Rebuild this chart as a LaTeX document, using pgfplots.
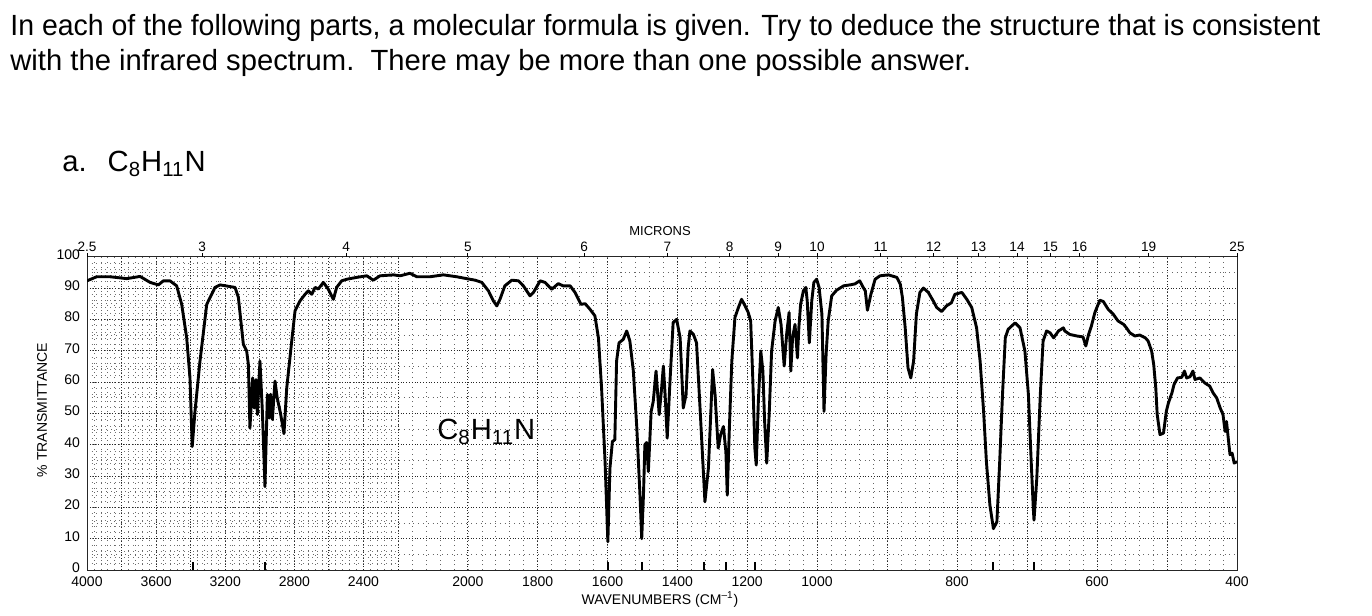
\documentclass[border=0pt]{standalone}
\usepackage{fontspec}
\setmainfont{Liberation Sans}
\usepackage{graphicx}
\usepackage{pgfplots}
\pgfplotsset{compat=1.18}
\begin{document}
\begin{tikzpicture}
\path[use as bounding box] (0,0) rectangle (686pt,308pt);
% title text
\node[anchor=base west, inner sep=0pt, font=\fontsize{14.6}{17}\selectfont] at (5pt,290pt)
  {\resizebox{655pt}{\height}{In each of the following parts, a molecular formula is given. Try to deduce the structure that is consistent}};
\node[anchor=base west, inner sep=0pt, font=\fontsize{14.6}{17}\selectfont] at (5pt,272.5pt)
  {with the infrared spectrum.\ \ There may be more than one possible answer.};
\node[anchor=base west, inner sep=0pt, font=\fontsize{14.6}{17}\selectfont] at (31pt,222pt)
  {a.\hspace{10.5pt}C\textsubscript{8}H\textsubscript{11}N};
% dense horizontal dotted lines of the 4000-2200 region
\foreach \t in {2,4,...,98} {
  \draw[black!55, dotted, line width=0.3pt] (43.5pt,{23pt+\t*1.5665pt}) -- (199pt,{23pt+\t*1.5665pt});
}
\begin{axis}[
  at={(43.5pt,23pt)}, anchor=south west,
  scale only axis, width=575pt, height=156.65pt,
  x coord trafo/.code={\pgfmathparse{(#1>=2200)?((4000-#1)*0.17278):((#1>=1000)?(311+(2200-#1)*0.34917):(730+(1000-#1)*0.7))}},
  xmin=4000, xmax=400, ymin=0, ymax=100,
  xtick={4000,3800,3600,3400,3200,3000,2800,2600,2400,2200,2000,1800,1600,1400,1200,1000,900,800,700,600,500,400},
  xticklabels={4000,,3600,,3200,,2800,,2400,,2000,1800,1600,1400,1200,1000,,800,,600,,400},
  minor xtick={4000,3960,...,2200,2160,2120,...,1000,980,960,...,400},
  ytick={0,10,...,100}, minor ytick={5,15,...,95},
  grid=both,
  major grid style={black!85, densely dotted, line width=0.45pt},
  minor grid style={black!60, dotted, line width=0.3pt},
  major tick length=0pt, minor tick length=0pt,
  axis line style={black!85, line width=0.5pt},
  /pgf/number format/assume math mode=true,
  tick label style={font=\fontsize{7}{8}\selectfont},
  xticklabel style={yshift=0pt},
  yticklabel style={yshift=1.2pt},
]
\addplot[ycomb, black, line width=1.1pt, no markers, forget plot] coordinates {
(3386,2.6) (2970,2.6) (1599,2.6) (1501,2.6) (1324,2.6) (1261,2.6) (1178,2.6) (749,2.6) (690,2.6)};
\addplot[black, line width=1.45pt, line join=round, no markers] coordinates {
(4000,92.3) (3944,93.6) (3867,93.6) (3770,93.0) (3693,93.7) (3635,91.8) (3587,91.0) (3558,92.3)
(3520,92.3) (3481,90.7) (3452,84.8) (3423,74.1) (3404,61.3) (3391,39.4) (3375,50.6) (3346,66.7)
(3307,84.8) (3259,90.2) (3230,91.0) (3143,90.2) (3124,87.0) (3095,72.0) (3076,69.9) (3066,65.6)
(3057,45.3) (3041,61.3) (3032,51.7) (3022,60.8) (3014,49.6) (2999,66.7) (2985,50.6) (2970,26.6)
(2956,56.0) (2945,48.5) (2937,56.1) (2927,48.0) (2912,60.3) (2899,54.9) (2880,50.0) (2860,43.5)
(2844,58.1) (2815,73.1) (2796,82.7) (2767,85.9) (2738,88.0) (2719,89.1) (2699,88.0) (2680,90.2)
(2661,89.7) (2632,91.8) (2603,89.6) (2574,86.4) (2555,90.2) (2526,92.3) (2497,92.8) (2439,93.4)
(2381,93.9) (2343,92.5) (2304,93.9) (2227,94.2)
(2194,93.9) (2166,94.7) (2146,93.6) (2108,93.6) (2070,94.2) (2032,93.6) (1994,92.8) (1979,92.5)
(1960,91.8) (1941,89.1) (1927,85.9) (1917,84.3) (1908,86.4) (1894,90.7) (1874,92.5) (1855,92.3)
(1841,90.7) (1822,87.5) (1812,88.6) (1793,92.3) (1779,91.8) (1760,89.6) (1741,91.4) (1727,90.7)
(1707,90.7) (1693,88.6) (1676,84.8) (1664,85.0) (1650,83.2) (1636,81.1) (1626,74.1) (1617,58.1)
(1607,34.6) (1599,9.0) (1593,32.5) (1586,41.0) (1579,41.6) (1574,66.7) (1567,72.5) (1555,73.6)
(1545,76.3) (1536,73.1) (1526,63.5) (1516,45.3) (1507,23.9) (1502,10.0) (1497,23.9) (1493,40.0)
(1488,40.7) (1483,31.4) (1475,50.6) (1469,53.8) (1461,63.5) (1452,49.6) (1445,58.1) (1440,65.1)
(1435,56.0) (1429,42.1) (1421,60.3) (1412,79.0) (1402,80.0) (1392,74.1) (1383,51.7) (1375,56.0)
(1369,70.9) (1364,76.3) (1354,75.2) (1345,72.5) (1335,51.7) (1326,32.5) (1321,21.8) (1311,32.5)
(1304,50.6) (1299,64.0) (1292,56.0) (1283,38.9) (1276,43.2) (1268,45.8) (1261,37.8) (1257,23.9)
(1251,45.3) (1244,66.7) (1235,80.6) (1225,83.8) (1216,86.4) (1206,84.3) (1197,82.2) (1190,79.5)
(1184,61.3) (1178,38.9) (1174,33.5) (1168,53.8) (1161,69.9) (1155,63.5) (1150,47.4) (1144,34.1)
(1137,49.6) (1130,69.9) (1120,79.5) (1111,83.8) (1103,78.4) (1094,65.1) (1087,75.2) (1080,82.2)
(1075,63.5) (1070,74.1) (1063,78.4) (1056,67.7) (1052,77.3) (1047,84.8) (1039,89.1) (1032,90.2)
(1028,85.9) (1022,72.5) (1015,85.9) (1009,91.8) (1001,92.8)
(997,90.2) (993,81.7) (990,50.6) (987,68.8) (984,79.5) (979,87.5) (972,89.3) (962,90.7)
(953,91.0) (946,91.3) (939,92.3) (934,90.2) (931,89.1) (928,82.9) (923,88.0) (917,92.8)
(910,93.9) (898,94.2) (886,93.4) (881,91.2) (878,87.0) (874,77.3) (870,64.5) (866,61.3)
(862,66.7) (858,81.7) (853,88.6) (848,90.0) (841,88.6) (834,85.9) (829,83.8) (822,82.5)
(815,84.3) (808,85.3) (803,88.0) (793,88.6) (786,86.4) (779,83.8) (772,77.3) (767,66.7)
(762,50.6) (758,34.6) (753,20.7) (748,13.2) (743,15.4) (739,34.6) (735,56.0) (731,74.1)
(727,76.8) (717,78.9) (710,77.3) (703,69.9) (698,56.0) (694,34.6) (691,19.6) (690,15.9)
(686,29.3) (681,56.0) (677,73.1) (672,76.3) (667,75.7) (662,74.1) (655,76.3) (648,77.3)
(646,76.3) (639,75.2) (629,74.7) (620,74.4) (616,71.5) (612,75.2) (608,77.9) (603,82.2)
(596,86.1) (591,85.7) (584,83.2) (577,81.7) (570,79.5) (562,78.4) (558,77.3) (553,75.7)
(546,74.7) (539,75.0) (531,74.1) (527,73.1) (522,69.9) (519,65.6) (516,58.1) (514,49.6)
(510,43.2) (505,43.7) (501,50.6) (498,53.3) (493,56.5) (490,59.2) (485,61.3) (479,61.5)
(475,63.5) (472,61.3) (467,61.7) (463,63.5) (460,60.8) (453,61.3) (446,59.7) (439,58.7)
(434,56.5) (429,54.9) (424,51.7) (420,49.6) (417,44.2) (415,47.4) (412,41.0) (410,36.8)
(407,37.3) (404,34.1) (400,34.6)};
\end{axis}
\begin{axis}[
  at={(43.5pt,23pt)}, anchor=south west,
  scale only axis, width=575pt, height=156.65pt,
  x coord trafo/.code={\pgfmathparse{(#1>=2200)?((4000-#1)*0.17278):((#1>=1000)?(311+(2200-#1)*0.34917):(730+(1000-#1)*0.7))}},
  xmin=4000, xmax=400, ymin=0, ymax=100,
  axis x line*=top, axis y line=none,
  xtick={4000,3333.33,2500,2000,1666.67,1428.57,1250,1111.11,1000,909.09,833.33,769.23,714.29,666.67,625,526.32,400},
  xticklabels={2.5,3,4,5,6,7,8,9,10,11,12,13,14,15,16,19,25},
  tick align=outside, major tick length=1.8pt,
  xtick style={black, line width=0.5pt},
  axis line style={draw=none},
  xticklabel style={font=\fontsize{6.8}{8}\selectfont, yshift=-2.6pt},
]
\addplot[draw=none, forget plot] coordinates {(2000,50)};
\end{axis}
\node[font=\fontsize{6.5}{7}\selectfont] at (330pt,192.5pt) {MICRONS};
\node[font=\fontsize{7}{8}\selectfont] at (330pt,8.3pt) {WAVENUMBERS (CM\textsuperscript{--1})};
\node[font=\fontsize{7}{8}\selectfont, rotate=90] at (21pt,103pt) {\% TRANSMITTANCE};
\node[anchor=base west, inner sep=0pt, font=\fontsize{14.6}{17}\selectfont] at (218.5pt,88pt)
  {C\textsubscript{8}H\textsubscript{11}N};
\end{tikzpicture}
\end{document}
